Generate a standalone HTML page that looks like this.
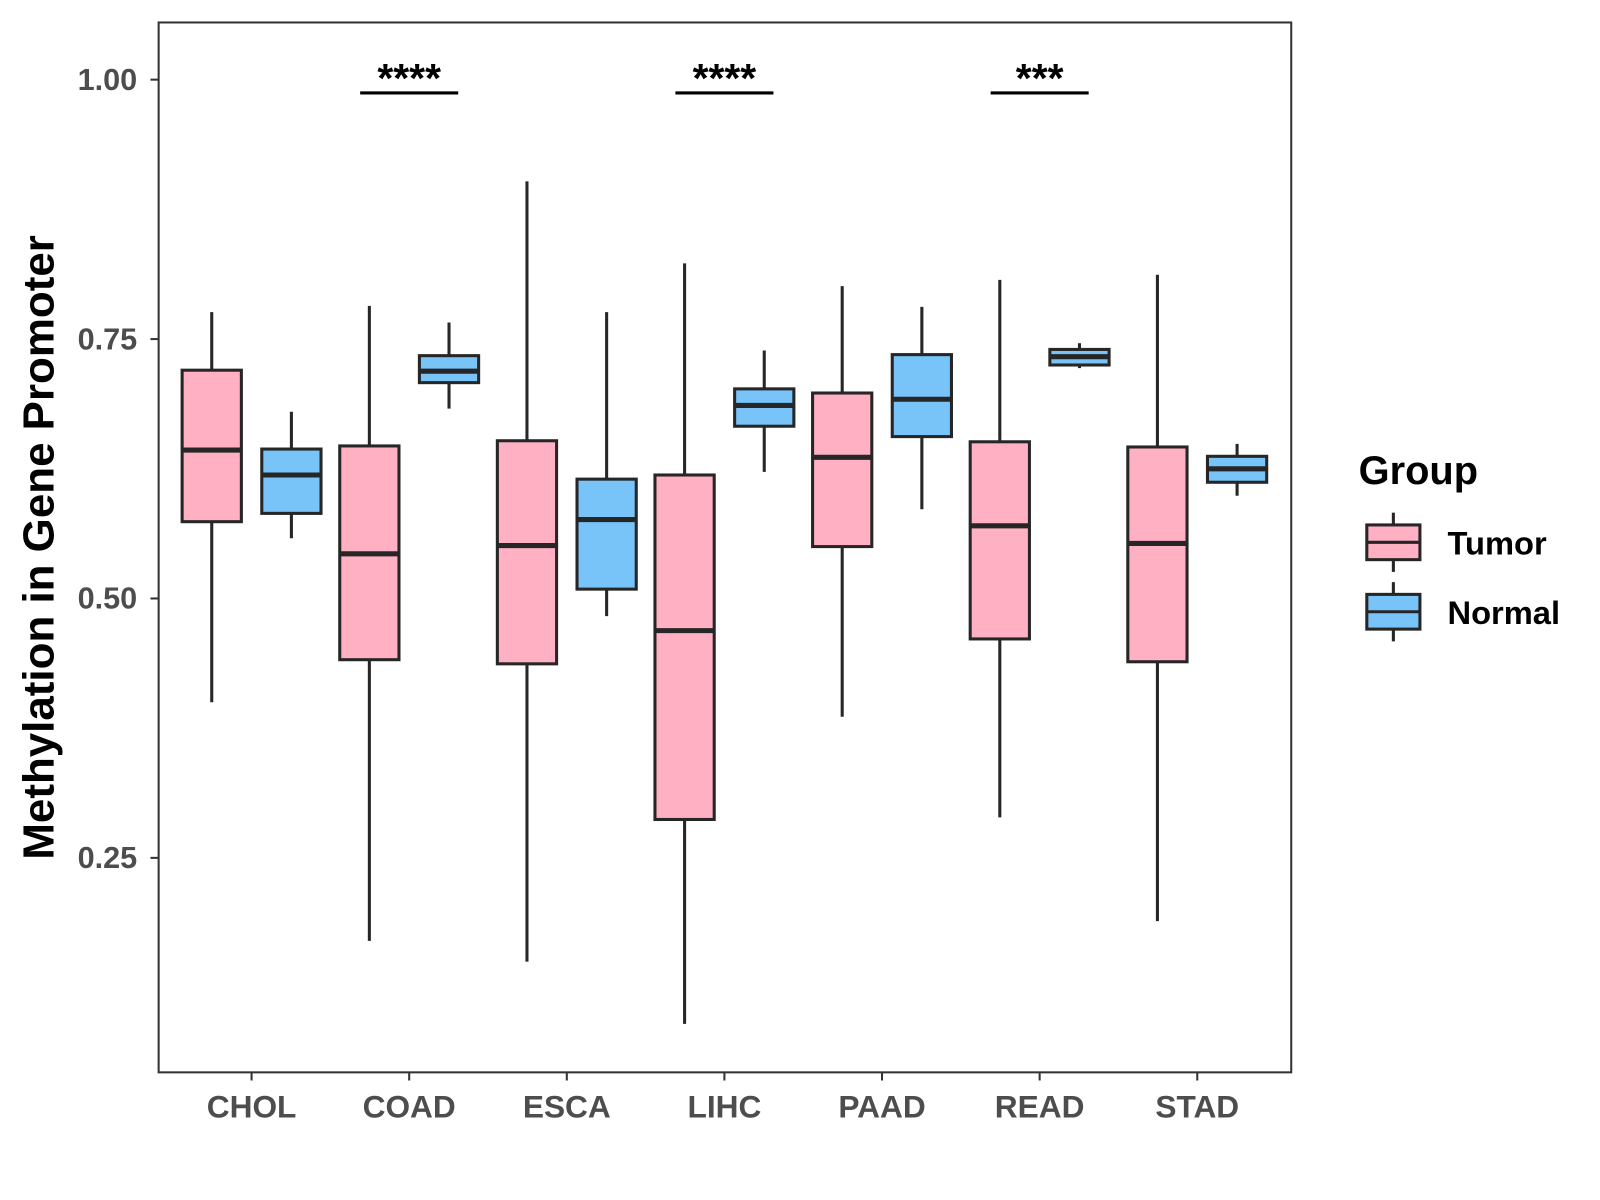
<!DOCTYPE html>
<html><head><meta charset="utf-8"><style>
html,body{margin:0;padding:0;background:#fff;}
svg{display:block;font-family:"Liberation Sans",Arial,sans-serif;}
</style></head><body>
<svg id="chart" width="1600" height="1200" viewBox="0 0 1566 1175">
<rect x="0" y="0" width="1566" height="1175" fill="#fff"/>
<rect x="155" y="22" width="1109" height="1028" fill="none" stroke="#333" stroke-width="2"/>
<g id="boxes"></g>
<g id="axes"></g>
<text transform="translate(52,536) rotate(-90)" text-anchor="middle" font-size="43" font-weight="bold" fill="#000">Methylation in Gene Promoter</text>
<g>
<text x="1330" y="474" font-size="39" font-weight="bold" fill="#000">Group</text>
<g>
<line x1="1364" y1="502" x2="1364" y2="560" stroke="#262626" stroke-width="3"/>
<rect x="1338" y="514" width="52" height="34" fill="#FFB0C3" stroke="#262626" stroke-width="3"/>
<line x1="1338" y1="531" x2="1390" y2="531" stroke="#262626" stroke-width="3"/>
<text x="1417" y="543" font-size="32" font-weight="bold" fill="#000">Tumor</text>
</g>
<g>
<line x1="1364" y1="570" x2="1364" y2="628" stroke="#262626" stroke-width="3"/>
<rect x="1338" y="582" width="52" height="34" fill="#78C3F8" stroke="#262626" stroke-width="3"/>
<line x1="1338" y1="599" x2="1390" y2="599" stroke="#262626" stroke-width="3"/>
<text x="1417" y="611" font-size="32" font-weight="bold" fill="#000">Normal</text>
</g>
</g>
</svg>
<script>
const categories = ["CHOL","COAD","ESCA","LIHC","PAAD","READ","STAD"];
// [min, q1, median, q3, max]
const tumorStats = [
  [0.400,0.574,0.643,0.720,0.776],
  [0.170,0.441,0.543,0.647,0.782],
  [0.150,0.437,0.551,0.652,0.902],
  [0.090,0.287,0.469,0.619,0.823],
  [0.386,0.550,0.636,0.698,0.801],
  [0.289,0.461,0.570,0.651,0.807],
  [0.189,0.439,0.553,0.646,0.812]
];
const normalStats = [
  [0.558,0.582,0.619,0.644,0.680],
  [0.683,0.708,0.719,0.734,0.766],
  [0.483,0.509,0.576,0.615,0.776],
  [0.622,0.666,0.686,0.702,0.739],
  [0.586,0.656,0.692,0.735,0.781],
  [0.722,0.725,0.733,0.740,0.746],
  [0.599,0.612,0.625,0.637,0.649]
];
const yTicks = [0.25,0.50,0.75,1.00];
const yTickLabels = ["0.25","0.50","0.75","1.00"];
const sigLabels = ["","****","","****","","***",""];

const NS="http://www.w3.org/2000/svg";
function yScale(v){return 78+(1-v)*1016;}
function xScale(i){return 246+i*154.33;}
function mk(tag,attrs,parent){const e=document.createElementNS(NS,tag);for(const k in attrs)e.setAttribute(k,attrs[k]);parent.appendChild(e);return e;}
const boxes=document.getElementById('boxes');
const axes=document.getElementById('axes');
const bw=58, off=39;
function drawBox(cx,s,fill,name){
  const g=mk('g',{},boxes);
  
  
  mk('line',{x1:cx,x2:cx,y1:yScale(s[4]),y2:yScale(s[0]),stroke:'#262626','stroke-width':3},g);
  mk('rect',{x:cx-bw/2,y:yScale(s[3]),width:bw,height:yScale(s[1])-yScale(s[3]),fill:fill,stroke:'#262626','stroke-width':3},g);
  mk('line',{x1:cx-bw/2,x2:cx+bw/2,y1:yScale(s[2]),y2:yScale(s[2]),stroke:'#262626','stroke-width':5},g);
}
categories.forEach((c,i)=>{
  const cx=xScale(i);
  drawBox(cx-off,tumorStats[i],'#FFB0C3','box-tumor-'+c.toLowerCase());
  drawBox(cx+off,normalStats[i],'#78C3F8','box-normal-'+c.toLowerCase());
  mk('line',{x1:cx,x2:cx,y1:1050,y2:1058,stroke:'#333','stroke-width':2},axes);
  const t=mk('text',{x:cx,y:1094,'text-anchor':'middle','font-size':31,'font-weight':'bold',fill:'#4d4d4d'},axes);
  
  
  t.textContent=c;
  if(sigLabels[i]){
    const l=mk('line',{x1:cx-48,x2:cx+48,y1:91,y2:91,stroke:'#000','stroke-width':3},axes);
    
    
    const s=mk('text',{x:cx,y:90,'text-anchor':'middle','font-size':40,'font-weight':'bold',fill:'#000'},axes);
    
    
    s.textContent=sigLabels[i];
  }
});
yTicks.forEach((v,i)=>{
  const y=yScale(v);
  mk('line',{x1:147,x2:155,y1:y,y2:y,stroke:'#333','stroke-width':2},axes);
  const t=mk('text',{x:134,y:y+10,'text-anchor':'end','font-size':30,'font-weight':'bold',fill:'#4d4d4d'},axes);
  
  
  t.textContent=yTickLabels[i];
});
</script>
</body></html>
